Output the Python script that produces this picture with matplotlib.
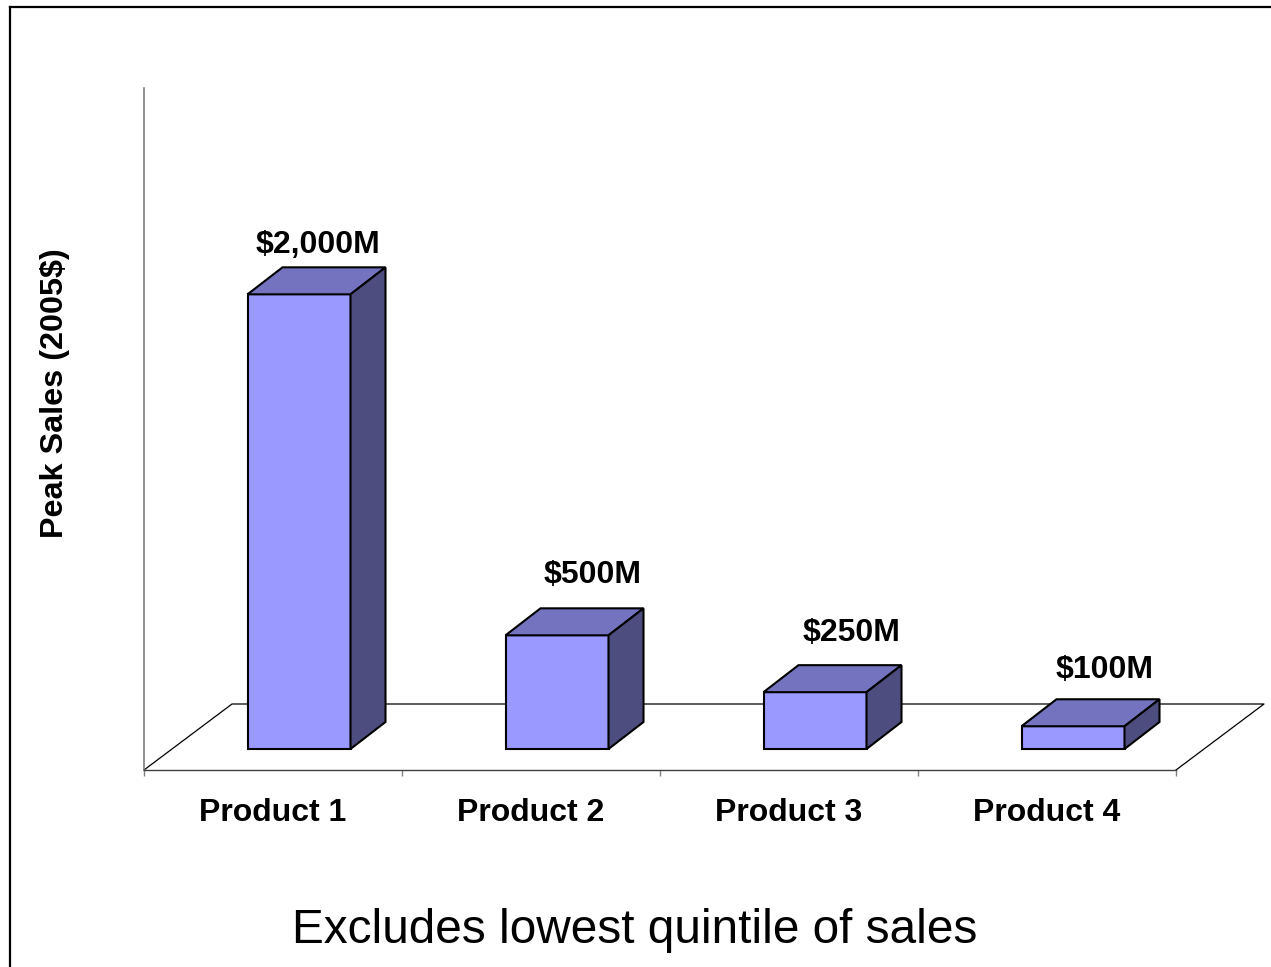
"""Pseudo-3D column chart: peak sales by product (2005$)."""
import matplotlib
matplotlib.use("Agg")
import matplotlib.pyplot as plt
from matplotlib.lines import Line2D
from matplotlib.patches import Polygon

# --- data -----------------------------------------------------------------
products     = ["Product 1", "Product 2", "Product 3", "Product 4"]
peak_sales   = [2000, 500, 250, 100]          # $M
value_labels = ["$2,000M", "$500M", "$250M", "$100M"]
Y_MAX = 3000

# --- style ----------------------------------------------------------------
FRONT = "#9999FF"
TOP   = "#7373BF"
SIDE  = "#4D4D80"
AXIS_GREY = "#808080"

W, H = 1271, 967
PX = 0.72                       # points per pixel at dpi=100
LABEL_NUDGE_PX = [(-16, 14), (1, 25), (2, 24), (-3, 21)]

plt.rcParams["font.family"] = ["Liberation Sans", "DejaVu Sans"]

fig = plt.figure(figsize=(W / 100, H / 100), dpi=100)
ax = fig.add_axes([144 / W, 1 - 770 / H, 1032 / W, 682 / H])
n = len(products)
ax.set_xlim(0, n)
ax.set_ylim(0, Y_MAX)

# pixel -> data unit helpers for the fake depth
cat_px = 1032 / n
val_px = 682 / Y_MAX
floor_dx, floor_dy = 88 / cat_px, 66 / val_px        # full floor depth
shift_x, shift_y   = 26 / cat_px, 21 / val_px        # bar front face inset
bar_dx, bar_dy     = 35 / cat_px, 27 / val_px        # bar depth
bar_w = 103 / cat_px

# floor outline (front edge is the x axis spine)
ax.plot([0, floor_dx, n + floor_dx, n], [0, floor_dy, floor_dy, 0],
        color="black", lw=0.9, clip_on=False, zorder=1)

for i, (v, lbl) in enumerate(zip(peak_sales, value_labels)):
    x0 = i + 0.5 + shift_x - bar_w / 2
    y0 = shift_y
    x1, y1 = x0 + bar_w, y0 + v
    faces = [
        ([(x0, y0), (x1, y0), (x1, y1), (x0, y1)], FRONT),
        ([(x0, y1), (x1, y1), (x1 + bar_dx, y1 + bar_dy), (x0 + bar_dx, y1 + bar_dy)], TOP),
        ([(x1, y0), (x1 + bar_dx, y0 + bar_dy), (x1 + bar_dx, y1 + bar_dy), (x1, y1)], SIDE),
    ]
    for pts, col in faces:
        ax.add_patch(Polygon(pts, closed=True, facecolor=col, edgecolor="black",
                             lw=1.5, joinstyle="miter", clip_on=False, zorder=3))
    ndx, ndy = LABEL_NUDGE_PX[i]
    ax.annotate(lbl, xy=(x0 + bar_w / 2 + bar_dx, y1 + bar_dy),
                xytext=(ndx * PX, ndy * PX), textcoords="offset points",
                ha="center", va="baseline", fontsize=23, fontweight="bold",
                annotation_clip=False, zorder=4)

# axes styling
for side in ("top", "right"):
    ax.spines[side].set_visible(False)
ax.spines["left"].set_color(AXIS_GREY)
ax.spines["left"].set_linewidth(1.2)
ax.spines["bottom"].set_color("#404040")
ax.spines["bottom"].set_linewidth(1.0)
ax.set_yticks([])
ax.set_xticks(range(n + 1))
ax.set_xticklabels([""] * (n + 1))
ax.tick_params(axis="x", which="major", length=6 * PX, width=1.0, color=AXIS_GREY)
ax.set_xticks([i + 0.5 for i in range(n)], minor=True)
ax.set_xticklabels(products, minor=True, fontsize=23, fontweight="bold")
ax.tick_params(axis="x", which="minor", length=0, pad=20)
ax.patch.set_visible(False)

fig.text(55 / W, 1 - 393 / H, "Peak Sales (2005$)", rotation=90,
         ha="center", va="center", fontsize=23.3, fontweight="bold")
fig.text(634.5 / W, 1 - 943 / H, "Excludes lowest quintile of sales",
         ha="center", va="baseline", fontsize=34.4)

# slide frame (only top and left edges fall inside the picture)
fig.add_artist(Line2D([9.5 / W, 9.5 / W], [1 - 6.5 / H, 0], transform=fig.transFigure,
                      color="black", lw=1.6))
fig.add_artist(Line2D([9.5 / W, 1], [1 - 6.5 / H, 1 - 6.5 / H], transform=fig.transFigure,
                      color="black", lw=1.6))

fig.savefig("out.png", dpi=100)
